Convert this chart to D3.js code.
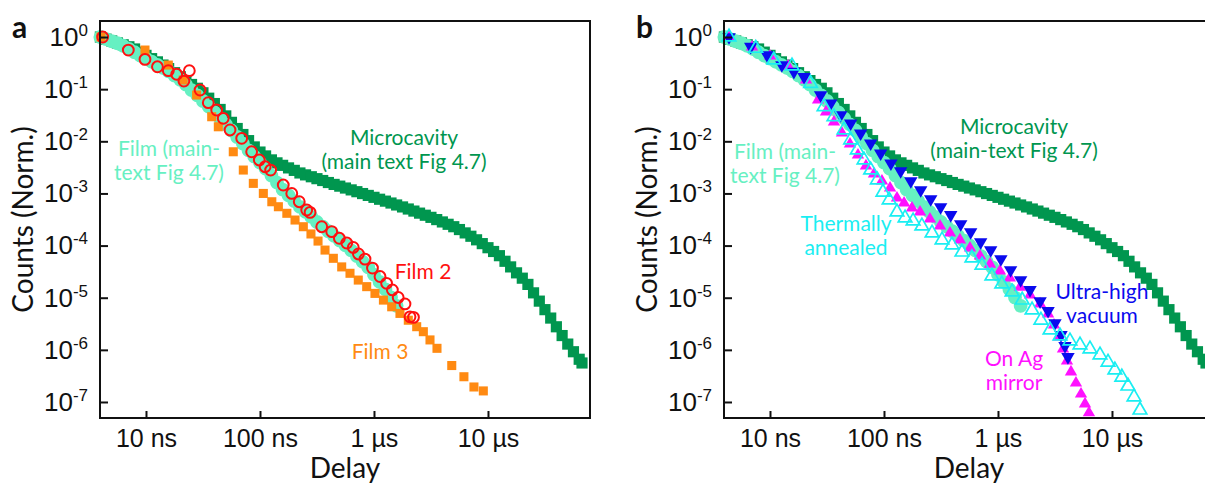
<!DOCTYPE html>
<html><head><meta charset="utf-8">
<script src="https://cdn.jsdelivr.net/npm/d3@7"></script>
<style>
body{margin:0;background:#fff;}
svg{display:block;font-family:Lato,"Open Sans",sans-serif;}
</style></head><body>
<svg id="chart" width="1205" height="486"></svg>
<script>
// ---------- data ----------
const xTickValues = [10, 100, 1000, 10000];
const xTickLabels = ["10 ns", "100 ns", "1 µs", "10 µs"];
const yTickExponents = [0, -1, -2, -3, -4, -5, -6, -7];

// delay (ns) of the dense Film / Microcavity records
const gridDelay = [3.98,4.47,5.01,5.62,6.31,7.08,7.94,8.91,10,11.2,12.6,14.1,15.8,17.8,20,22.4,25.1,28.2,31.6,35.5,39.8,44.7,50.1,56.2,63.1,70.8,79.4,89.1,
  100,112,126,141,158,178,200,224,251,282,316,355,398,447,501,562,631,708,794,891,
  1000,1120,1260,1410,1580,1780,2000,2240,2510,2820,3160,3550,3980,4470,5010,5620,6310,7080,7940,8910,
  10000,11200,12600,14100,15800,17800,20000,22400,25100,28200,31600,35500,39800,44700,50100,56200,63100,66800];

const filmCounts = [1.0,0.91,0.83,0.76,0.68,0.59,0.51,0.44,0.385,0.336,0.293,0.255,0.219,0.182,0.151,0.122,0.096,0.0757,
  0.0593,0.0461,0.0358,0.0276,0.0211,0.0161,0.0121,0.0090,0.00668,0.00508,0.00389,0.00298,0.00220,0.00161,0.00118,
  0.000914,0.000710,0.000552,0.000442,0.000354,0.000283,0.000231,0.000188,0.000153,0.000124,0.000101,
  8.1e-5,6.3e-5,4.9e-5,3.8e-5,2.76e-5,2.01e-5,1.44e-5,1.01e-5,7.0e-6];

const cavityCounts = [1.0,0.91,0.84,0.77,0.71,0.65,0.59,0.513,0.445,0.385,0.334,0.290,0.248,0.207,0.173,0.146,0.123,0.104,
  0.0851,0.0671,0.0530,0.0408,0.0307,0.0231,0.0176,0.0135,0.0103,0.0078,0.00622,0.00524,0.00440,0.00386,0.00346,0.00309,
  0.00277,0.00247,0.00227,0.00209,0.00192,0.00177,0.00162,0.00149,0.00138,0.00127,0.00117,0.00108,0.000995,0.000916,
  0.000842,0.000774,0.000712,0.000655,0.000601,0.000551,0.000503,0.000459,0.000419,0.000382,0.000348,0.000315,0.000284,
  0.000256,0.000230,0.000203,0.000175,0.000151,0.000129,0.000109,9.1e-5,7.7e-5,6.4e-5,5.0e-5,3.9e-5,3.0e-5,2.37e-5,
  1.80e-5,1.24e-5,8.6e-6,5.9e-6,4.07e-6,2.77e-6,1.88e-6,1.29e-6,9.2e-7,6.6e-7,5.6e-7];

// [delay ns, counts]
const film2 = [[4.17,1.0],[7.0,0.563],[9.8,0.373],[12.6,0.269],[15.7,0.226],[18.6,0.193],[21.5,0.143],[24.0,0.226],
  [29.8,0.0963],[35.2,0.055],[41.7,0.0398],[47.6,0.0276],[54.6,0.0165],[69.1,0.0114],[84.5,0.0063],[98.6,0.00438],
  [111,0.00325],[124,0.00281],[160,0.00145],[190,0.00100],[221,0.000693],[257,0.000481],[275,0.000434],[348,0.000230],
  [426,0.000185],[497,0.000138],[577,0.000112],[658,9.2e-5],[731,6.9e-5],[834,5.5e-5],[970,3.7e-5],[1130,2.55e-5],
  [1290,1.89e-5],[1450,1.41e-5],[1630,1.01e-5],[1870,7.6e-6],[2070,4.3e-6],[2220,4.2e-6]];

const film3 = [[4.03,1.0],[9.8,0.563],[15.7,0.290],[21.2,0.150],[27.8,0.0772],[37.7,0.0296],[43.1,0.0190],[58.3,0.0063],
  [71.4,0.00281],[87.4,0.00156],[107,0.00100],[127,0.000693],[145,0.000556],[172,0.000416],[203,0.000309],[240,0.000230],
  [280,0.000167],[323,0.000122],[372,8.2e-5],[440,5.7e-5],[521,3.9e-5],[616,2.94e-5],[728,2.18e-5],[863,1.63e-5],
  [1020,1.21e-5],[1210,9.0e-6],[1430,6.7e-6],[1690,5.0e-6],[2000,3.7e-6],[2370,2.78e-6],[2710,2.23e-6],[3100,1.55e-6],
  [3570,1.07e-6],[4810,5.0e-7],[6150,3.05e-7],[7530,1.94e-7],[9100,1.63e-7]];

const uhv = [[4.37,1.0],[6.78,0.652],[9.42,0.452],[12.7,0.290],[16.2,0.216],[19.9,0.173],[27.8,0.0772],[34.1,0.0535],
  [41.7,0.0319],[51.0,0.0221],[62.4,0.0142],[76.4,0.00914],[93.5,0.00588],[115,0.00378],[140,0.00269],[172,0.00173],
  [210,0.00116],[257,0.000782],[314,0.000549],[385,0.000386],[471,0.000259],[576,0.000182],[705,0.000117],[863,8.2e-5],
  [1060,5.5e-5],[1290,3.4e-5],[1580,2.18e-5],[1910,1.41e-5],[2340,8.6e-6],[2750,5.6e-6],[3160,3.27e-6],[3570,1.93e-6],
  [3870,1.19e-6],[4110,7.3e-7]];

const annealed = [[4.37,1.0],[7.5,0.607],[10.8,0.362],[15.6,0.278],[22.7,0.129],[29.8,0.0461],[36.4,0.0296],[44.6,0.0165],
  [51.0,0.0106],[58.3,0.0068],[66.8,0.00438],[76.4,0.00281],[87.4,0.00181],[97.9,0.00106],[111,0.000748],[130,0.000440],
  [153,0.000338],[180,0.000296],[215,0.000237],[264,0.000174],[323,0.000128],[395,0.000103],[483,7.5e-5],[591,5.8e-5],
  [724,4.2e-5],[885,2.61e-5],[1080,1.83e-5],[1330,1.29e-5],[1630,9.0e-6],[1990,5.8e-6],[2380,3.7e-6],[2860,2.40e-6],
  [3500,1.84e-6],[4280,1.48e-6],[5240,1.24e-6],[6410,1.04e-6],[7850,7.96e-7],[9230,5.8e-7],[10600,4.1e-7],[12200,3.0e-7],
  [13800,2.02e-7],[15600,1.25e-7],[17600,7.0e-8]];

const agMirror = [[4.37,1.0],[6.95,0.643],[10.0,0.432],[14.4,0.278],[20.7,0.150],[26.4,0.0619],[31.0,0.0365],[36.4,0.0234],
  [42.8,0.0144],[50.3,0.00887],[59.1,0.00546],[69.5,0.00336],[81.7,0.00236],[96.0,0.00173],[113,0.00127],[130,0.000817],
  [150,0.000655],[176,0.000525],[207,0.000440],[253,0.000323],[310,0.000237],[379,0.000174],[464,0.000128],[568,8.98e-5],
  [695,6.3e-5],[851,4.4e-5],[1040,3.25e-5],[1270,2.39e-5],[1560,1.60e-5],[1910,1.13e-5],[2340,7.6e-6],[2750,4.9e-6],
  [3100,2.99e-6],[3430,1.76e-6],[3720,1.04e-6],[4030,6.1e-7],[4370,3.76e-7],[4830,2.31e-7],[5350,1.42e-7],[5800,9.2e-8],
  [6280,6.2e-8]];

// ---------- drawing ----------
const C = {film:"#66f0c2", cavity:"#00964f", red:"#ff1010", orange:"#ff8a12", cyan:"#1aeef2", blue:"#0a0aee", magenta:"#ff10ff"};
const filmData = filmCounts.map((c,i)=>[gridDelay[i], c]);
const cavityData = cavityCounts.map((c,i)=>[gridDelay[i], c]);

const svg = d3.select("#chart");
const W = 490, H = 397, TOP = 21;

function panel(left, letter, series, labels) {
  const g = svg.append("g").attr("transform", `translate(${left},${TOP})`);
  const x = d3.scaleLog().domain([3.95, 78500]).range([0, W]);
  const y = d3.scaleLog().domain([4.93e-8, 2.03]).range([H, 0]);

  series.forEach(s => {
    const sym = d3.symbol().type(s.type).size(s.size);
    g.append("g").selectAll("path").data(s.data).enter().append("path")
      .attr("transform", d => `translate(${x(d[0])},${y(d[1])})${s.rot ? " rotate(" + s.rot + ")" : ""}`)
      .attr("d", sym)
      .attr("fill", s.fill || "none")
      .attr("stroke", s.stroke || "none")
      .attr("stroke-width", s.sw || 0);
  });

  // axes
  const yAxis = d3.axisLeft(y).tickValues(yTickExponents.map(e => Math.pow(10, e)))
    .tickSizeInner(-8).tickSizeOuter(0).tickPadding(12).tickFormat("");
  const ya = g.append("g").call(yAxis);
  ya.select(".domain").remove();
  ya.selectAll(".tick line").attr("stroke", "#111").attr("stroke-width", 2);
  ya.selectAll(".tick text").each(function(d, i) {
    const t = d3.select(this).attr("font-size", 26).attr("fill", "#111").attr("font-family", null);
    t.append("tspan").text("10");
    t.append("tspan").attr("dy", -10).attr("font-size", 17).text(String(yTickExponents[i]));
  });

  const xAxis = d3.axisBottom(x).tickValues(xTickValues).tickSizeInner(-7).tickSizeOuter(0).tickPadding(11)
    .tickFormat((d, i) => xTickLabels[i]);
  const xa = g.append("g").attr("transform", `translate(0,${H})`).call(xAxis);
  xa.select(".domain").remove();
  xa.selectAll(".tick line").attr("stroke", "#111").attr("stroke-width", 2);
  xa.selectAll(".tick text").attr("font-size", 25).attr("fill", "#111").attr("font-family", null);

  g.append("rect").attr("x", 0).attr("y", 0).attr("width", W).attr("height", H)
    .attr("fill", "none").attr("stroke", "#111").attr("stroke-width", 2);

  // titles
  g.append("text").attr("x", W/2).attr("y", 457).attr("text-anchor", "middle")
    .attr("font-size", 28).attr("fill", "#111").text("Delay");
  g.append("text").attr("transform", `translate(-67,${H/2}) rotate(-90)`).attr("text-anchor", "middle")
    .attr("font-size", 28).attr("fill", "#111").text("Counts (Norm.)");
  g.append("text").attr("x", -88).attr("y", 17).attr("font-size", 30).attr("font-weight", "bold")
    .attr("fill", "#111").text(letter);

  labels.forEach(l => {
    const t = g.append("text").attr("text-anchor", "middle").attr("font-size", 21).attr("fill", l.color);
    l.lines.forEach((txt, k) => {
      t.append("tspan").attr("x", l.x).attr("y", l.y - 1 + k * 24).text(txt);
    });
  });
}

panel(100, "a", [
  {data: cavityData, type: d3.symbolSquare, size: 125, fill: C.cavity},
  {data: filmData, type: d3.symbolCircle, size: 150, fill: C.film},
  {data: film3, type: d3.symbolSquare, size: 82, fill: C.orange},
  {data: film2, type: d3.symbolCircle, size: 92, stroke: C.red, sw: 2}
], [
  {lines: ["Film (main-", "text Fig 4.7)"], x: 69, y: 136, color: C.film},
  {lines: ["Microcavity", "(main text Fig 4.7)"], x: 304, y: 125, color: C.cavity},
  {lines: ["Film 2"], x: 323, y: 259, color: C.red},
  {lines: ["Film 3"], x: 280, y: 339, color: C.orange}
]);

panel(724, "b", [
  {data: cavityData, type: d3.symbolSquare, size: 125, fill: C.cavity},
  {data: filmData, type: d3.symbolCircle, size: 150, fill: C.film},
  {data: agMirror, type: d3.symbolTriangle, size: 66, fill: C.magenta},
  {data: uhv, type: d3.symbolTriangle, size: 78, fill: C.blue, rot: 180},
  {data: annealed, type: d3.symbolTriangle, size: 80, stroke: C.cyan, sw: 1.7}
], [
  {lines: ["Film (main-", "text Fig 4.7)"], x: 61, y: 139, color: C.film},
  {lines: ["Microcavity", "(main-text Fig 4.7)"], x: 290, y: 114, color: C.cavity},
  {lines: ["Thermally", "annealed"], x: 122, y: 211, color: C.cyan},
  {lines: ["Ultra-high", "vacuum"], x: 378, y: 279, color: C.blue},
  {lines: ["On Ag", "mirror"], x: 290, y: 346, color: C.magenta}
]);
</script>
</body></html>
